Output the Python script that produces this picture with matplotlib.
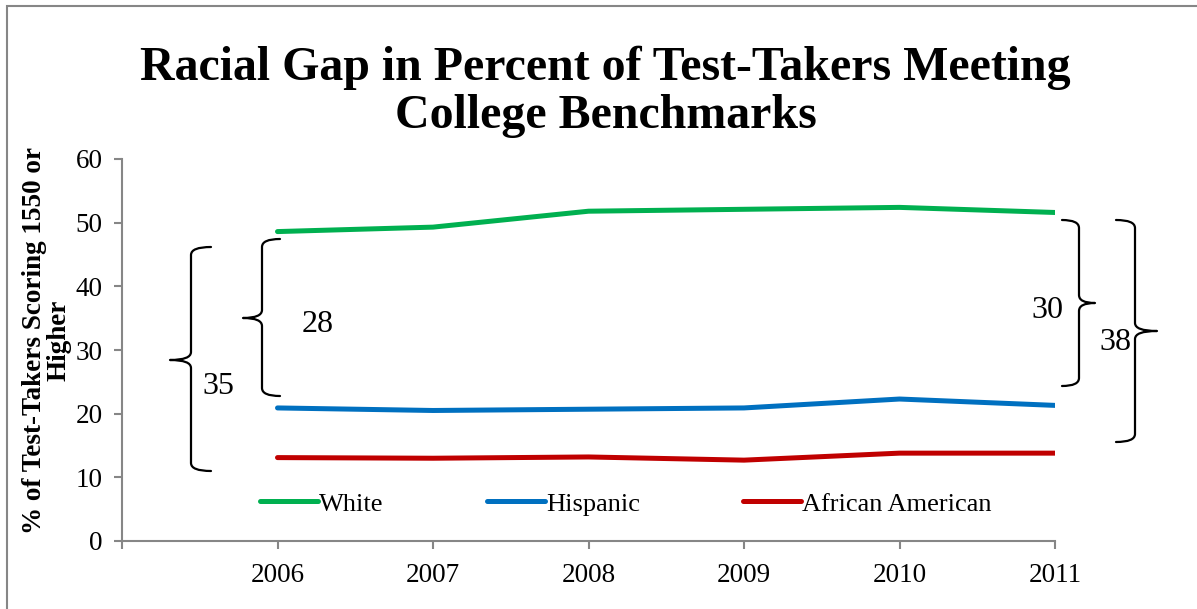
import matplotlib
matplotlib.use("Agg")
import matplotlib.pyplot as plt
from matplotlib.path import Path
from matplotlib.patches import PathPatch, Rectangle

years = [2006, 2007, 2008, 2009, 2010, 2011]
white = [48.6, 49.3, 51.8, 52.1, 52.4, 51.6]
hispanic = [20.9, 20.5, 20.7, 20.9, 22.3, 21.3]
african_american = [13.1, 13.0, 13.2, 12.7, 13.8, 13.8]
series_names = ["White", "Hispanic", "African American"]
colors = ["#00B050", "#0070C0", "#C00000"]
yticks = [0, 10, 20, 30, 40, 50, 60]
gap_labels = ["28", "35", "30", "38"]

W, H = 1197, 609
plt.rcParams['font.family'] = ['Liberation Serif', 'DejaVu Serif']
fig = plt.figure(figsize=(W / 100, H / 100), dpi=100)

def fx(px):
    return px / W

def fy(py):
    return 1 - py / H

ax = fig.add_axes([fx(122), fy(541), fx(1055) - fx(122), fy(159) - fy(541)])
for vals, name, c in zip([white, hispanic, african_american], series_names, colors):
    ax.plot(years, vals, color=c, lw=3.6, solid_capstyle='round', label=name)

ax.set_xlim(2005, 2011)
ax.set_ylim(0, 60)
ax.set_xticks([2005] + years)
ax.set_xticklabels([""] + [str(y) for y in years], fontsize=19.5)
ax.set_yticks(yticks)
ax.set_yticklabels([str(v) for v in yticks], fontsize=19.5)
for s in ['top', 'right']:
    ax.spines[s].set_visible(False)
for s in ['left', 'bottom']:
    ax.spines[s].set_color('#868686')
    ax.spines[s].set_linewidth(1.5)
ax.tick_params(axis='both', colors='#868686', labelcolor='black', width=1.5, length=6)
ax.tick_params(axis='x', pad=10)
ax.tick_params(axis='y', pad=8)

fig.text(fx(47), fy(340), "% of Test-Takers Scoring 1550 or\nHigher", rotation=90,
         ha='center', va='center', fontsize=19.5, fontweight='bold', linespacing=0.95)

leg = ax.legend(loc='center', bbox_to_anchor=(0.54, 0.097), ncol=3, frameon=False, fontsize=19,
                handlelength=2.2, handletextpad=0.05, columnspacing=3.9)

fig.text(0.506, fy(92), "Racial Gap in Percent of Test-Takers Meeting\nCollege Benchmarks",
         ha='center', va='center', fontsize=34.5, fontweight='bold', linespacing=1.12)

# Braces (annotation shapes in figure pixels)
def brace(x_spine, x_tip, x_point, y_top, y_bot, y_mid):
    r = 8
    verts = [
        (x_tip, y_top),
        (x_spine, y_top), (x_spine, y_top + r),
        (x_spine, y_mid - r),
        (x_spine, y_mid), (x_point, y_mid),
        (x_spine, y_mid), (x_spine, y_mid + r),
        (x_spine, y_bot - r),
        (x_spine, y_bot), (x_tip, y_bot),
    ]
    codes = [Path.MOVETO, Path.CURVE3, Path.CURVE3, Path.LINETO,
             Path.CURVE3, Path.CURVE3, Path.CURVE3, Path.CURVE3,
             Path.LINETO, Path.CURVE3, Path.CURVE3]
    v = [(fx(x), fy(y)) for x, y in verts]
    p = PathPatch(Path(v, codes), transform=fig.transFigure, fill=False, lw=1.6,
                  edgecolor='black', capstyle='round', joinstyle='round')
    fig.patches.append(p)

brace(191, 211, 170, 247, 471, 360)
brace(262, 280, 243, 239, 396, 318)
brace(1079, 1062, 1095, 220, 386, 303)
brace(1135, 1116, 1157, 220, 442, 331)

for lbl, (x, y) in zip(gap_labels, [(318, 325), (218, 387), (1047, 310), (1115, 342)]):
    fig.text(fx(x), fy(y), lbl, ha='center', va='center', fontsize=23)

border = Rectangle((fx(7), fy(H + 20)), fx(W + 20) - fx(7), fy(6) - fy(H + 20),
                   transform=fig.transFigure, fill=False, edgecolor='#868686', lw=1.5)
fig.patches.append(border)

fig.savefig("out.png", dpi=100)
